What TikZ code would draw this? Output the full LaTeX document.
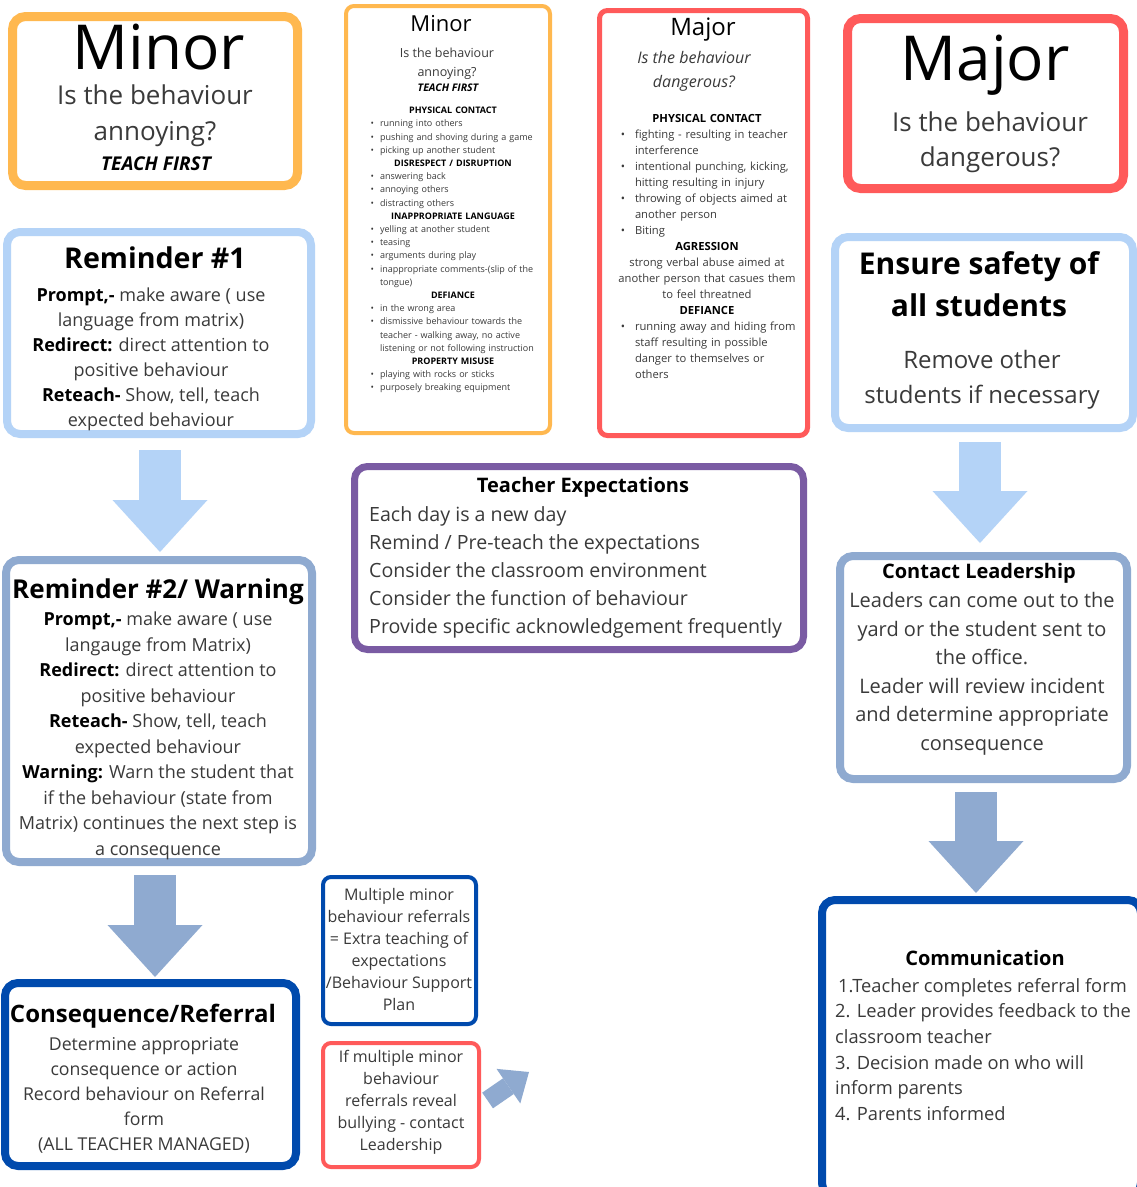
\documentclass[tikz,border=0pt]{standalone}
\usepackage{fontspec}
\setmainfont{Open Sans}
\usetikzlibrary{arrows.meta,fit,positioning}

\definecolor{minorOrange}{HTML}{FFB84F}
\definecolor{majorRed}{HTML}{FF5A5A}
\definecolor{paleBlue}{HTML}{B4D3F7}
\definecolor{steelBlue}{HTML}{8FAAD0}
\definecolor{deepBlue}{HTML}{004AAD}
\definecolor{plum}{HTML}{7A5BA3}
\definecolor{inkGray}{HTML}{3A3A3A}

\newcommand{\fsz}[2]{\fontsize{#1}{#2}\selectfont}
\newcommand{\kw}[1]{{\bfseries\color{black}#1}}
\newcommand{\hd}[1]{{\centering\bfseries\color{black}#1\par}}
\newenvironment{dotlist}[2]{%
  \begin{list}{\textbullet}{%
    \setlength{\leftmargin}{#1}\setlength{\labelsep}{#2}%
    \setlength{\labelwidth}{\dimexpr#1-#2\relax}%
    \setlength{\rightmargin}{-12pt}%
    \setlength{\itemsep}{0pt}\setlength{\parsep}{0pt}%
    \setlength{\topsep}{0pt}\setlength{\partopsep}{0pt}}\raggedright}
  {\end{list}}

\begin{document}
\begin{tikzpicture}[x=1pt,y=-1pt,
    box/.style={draw=#1,rounded corners=13pt,line width=8pt,inner sep=0pt},
    slim/.style={draw=#1,rounded corners=8pt,line width=4pt,inner sep=0pt},
    txt/.style={inner sep=0pt,anchor=north,align=center,text=inkGray},
    ttl/.style={inner sep=0pt,anchor=north,align=center,text=black},
    blockarrow/.style={draw=#1,line width=42pt,-{Triangle[length=52pt,width=95pt,line width=0pt]}}]
  \fill[white] (0,0) rectangle (1137,1187);
  \useasboundingbox (0,0) rectangle (1137,1187);

  % boxes
  \node[box=minorOrange,line width=9pt,fit={(12.5,16.5) (297.5,185.5)}] (minorL) {};
  \node[slim=minorOrange,fit={(346,6) (550,433)}] (minorM) {};
  \node[slim=majorRed,line width=5pt,fit={(599.5,10.5) (807.5,435.5)}] (majorM) {};
  \node[box=majorRed,line width=9pt,fit={(847.5,18.5) (1123.5,188.5)}] (majorR) {};
  \node[box=paleBlue,fit={(7,232) (311,434)}] (rem1) {};
  \node[box=steelBlue,fit={(6,560) (312,862)}] (rem2) {};
  \node[box=deepBlue,fit={(5,983) (296,1166)}] (conseq) {};
  \node[box=plum,line width=7pt,fit={(354.5,466.5) (803.5,649.5)}] (expect) {};
  \node[slim=deepBlue,fit={(323,877) (476,1024)}] (multi) {};
  \node[slim=majorRed,fit={(323,1043) (479,1167)}] (bully) {};
  \node[box=paleBlue,fit={(835,237) (1133,428)}] (safety) {};
  \node[box=steelBlue,fit={(840,556) (1127,779)}] (contact) {};
  \node[box=deepBlue,fit={(822,900) (1141,1196)}] (comm) {};

  % minor, left
  \node[txt,text=black,font=\fsz{62}{62}] (minorLhd) at (159,24) {Minor};
  \node[txt,font=\fsz{26}{36}] (minorLq) at (155,85) {Is the behaviour\\annoying?};
  \node[ttl,font=\bfseries\itshape\fsz{19}{19}] (minorLteach) at (156,157) {TEACH FIRST};

  % minor, middle
  \node[txt,text=black,font=\fsz{22}{22}] (minorMhd) at (441,15) {Minor};
  \node[txt,font=\fsz{12.5}{19}] (minorMq) at (447,48) {Is the behaviour\\annoying?};
  \node[ttl,font=\bfseries\itshape\fsz{10.5}{10.5}] (minorMteach) at (448,84) {TEACH FIRST};
  \node[txt,font=\fsz{9}{13.2},text width=170pt,align=left] (minorMlist) at (453,107) {%
    \hd{PHYSICAL CONTACT}
    \begin{dotlist}{12pt}{6pt}
      \item running into others
      \item pushing and shoving during a game
      \item picking up another student
    \end{dotlist}
    \hd{DISRESPECT / DISRUPTION}
    \begin{dotlist}{12pt}{6pt}
      \item answering back
      \item annoying others
      \item distracting others
    \end{dotlist}
    \hd{INAPPROPRIATE LANGUAGE}
    \begin{dotlist}{12pt}{6pt}
      \item yelling at another student
      \item teasing
      \item arguments during play
      \item inappropriate comments-(slip of the\newline tongue)
    \end{dotlist}
    \hd{DEFIANCE}
    \begin{dotlist}{12pt}{6pt}
      \item in the wrong area
      \item dismissive behaviour towards the\newline teacher - walking away, no active\newline listening or not following instruction
    \end{dotlist}
    \hd{PROPERTY MISUSE}
    \begin{dotlist}{12pt}{6pt}
      \item playing with rocks or sticks
      \item purposely breaking equipment
    \end{dotlist}};

  % major, middle
  \node[txt,text=black,font=\fsz{24}{24}] (majorMhd) at (703,18) {Major};
  \node[txt,font=\itshape\fsz{16}{24.5}] (majorMq) at (694,51) {Is the behaviour\\dangerous?};
  \node[txt,font=\fsz{11.2}{16},text width=184pt,align=left] (majorMlist) at (707,114) {%
    \hd{PHYSICAL CONTACT}
    \begin{dotlist}{20pt}{10pt}
      \item fighting - resulting in teacher\newline interference
      \item intentional punching, kicking,\newline hitting resulting in injury
      \item throwing of objects aimed at\newline another person
      \item Biting
    \end{dotlist}
    \hd{AGRESSION}
    {\centering strong verbal abuse aimed at\\another person that casues them\\to feel threatned\par}
    \hd{DEFIANCE}
    \begin{dotlist}{20pt}{10pt}
      \item running away and hiding from\newline staff resulting in possible\newline danger to themselves or\newline others
    \end{dotlist}};

  % major, right
  \node[txt,text=black,font=\fsz{62}{62}] (majorRhd) at (985,35) {Major};
  \node[txt,font=\fsz{26}{35}] (majorRq) at (990,112) {Is the behaviour\\dangerous?};

  % left column
  \node[ttl,font=\bfseries\fsz{28.6}{28.6}] (rem1hd) at (155,247) {Reminder \#1};
  \node[txt,font=\fsz{18}{25}] (rem1body) at (151,288) {\kw{Prompt,-} make aware ( use\\language from matrix)\\\kw{Redirect:} direct attention to\\positive behaviour\\\kw{Reteach-} Show, tell, teach\\expected behaviour};
  \node[ttl,font=\bfseries\fsz{26}{26}] (rem2hd) at (158,579) {Reminder \#2/ Warning};
  \node[txt,font=\fsz{18}{25.5}] (rem2body) at (158,612) {\kw{Prompt,-} make aware ( use\\langauge from Matrix)\\\kw{Redirect:} direct attention to\\positive behaviour\\\kw{Reteach-} Show, tell, teach\\expected behaviour\\\kw{Warning:} Warn the student that\\if the behaviour (state from\\Matrix) continues the next step is\\a consequence};
  \node[ttl,font=\bfseries\fsz{24}{24}] (conseqhd) at (143,1004) {Consequence/Referral};
  \node[txt,font=\fsz{17.7}{25}] (conseqbody) at (144,1037) {Determine appropriate\\consequence or action\\Record behaviour on Referral\\form\\(ALL TEACHER MANAGED)};

  % middle column
  \node[ttl,font=\bfseries\fsz{20}{20}] (expecthd) at (583,477) {Teacher Expectations};
  \node[txt,anchor=north west,align=left,font=\fsz{19.6}{28}] (expectbody) at (369,506) {Each day is a new day\\Remind / Pre-teach the expectations\\Consider the classroom environment\\Consider the function of behaviour\\Provide specific acknowledgement frequently};
  \node[txt,font=\fsz{16}{22}] (multibody) at (399,888) {Multiple minor\\behaviour referrals\\= Extra teaching of\\expectations\\/Behaviour Support\\Plan};
  \node[txt,font=\fsz{16}{22}] (bullybody) at (401,1050) {If multiple minor\\behaviour\\referrals reveal\\bullying - contact\\Leadership};

  % right column
  \node[ttl,font=\bfseries\fsz{30}{42}] (safetyhd) at (979,251) {Ensure safety of\\all students};
  \node[txt,font=\fsz{24}{35}] (safetybody) at (982,350) {Remove other\\students if necessary};
  \node[ttl,font=\bfseries\fsz{20}{20}] (contacthd) at (979,563) {Contact Leadership};
  \node[txt,font=\fsz{20}{28.6}] (contactbody) at (982,592) {Leaders can come out to the\\yard or the student sent to\\the office.\\Leader will review incident\\and determine appropriate\\consequence};
  \node[ttl,font=\bfseries\fsz{20}{20}] (commhd) at (985,950) {Communication};
  \node[txt,anchor=north west,align=left,font=\fsz{18.3}{25.6}] (commbody) at (835,978) {\hspace*{3pt}1.Teacher completes referral form\\2. Leader provides feedback to the\\classroom teacher\\3. Decision made on who will\\inform parents\\4. Parents informed};

  % block arrows
  \coordinate (bullyto) at (529,1072);
  \draw[blockarrow=paleBlue,shorten <=12pt,shorten >=4pt] ([xshift=1pt]rem1.south) -- ([xshift=1pt]rem2.north);
  \draw[blockarrow=steelBlue,shorten <=9pt,shorten >=2pt] ([xshift=-4pt]rem2.south) -- ([xshift=4.5pt]conseq.north);
  \draw[blockarrow=paleBlue,shorten <=10pt,shorten >=9pt] ([xshift=-4pt]safety.south) -- ([xshift=-3.5pt]contact.north);
  \draw[blockarrow=steelBlue,shorten <=9pt,shorten >=3pt] ([xshift=-7.5pt]contact.south) -- ([xshift=-5.5pt]comm.north);
  \draw[blockarrow=steelBlue,line width=19pt,-{Triangle[length=25pt,width=42pt,line width=0pt]},shorten <=8pt] (bully.east) -- (bullyto);
\end{tikzpicture}
\end{document}
